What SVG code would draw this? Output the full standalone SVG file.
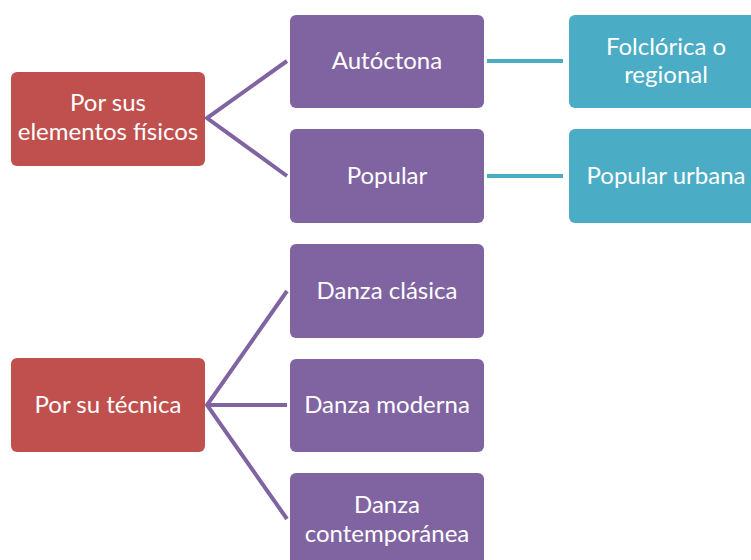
<svg xmlns="http://www.w3.org/2000/svg" width="751" height="560" viewBox="0 0 751 560">
<style>
.red{fill:#C0504D}
.pur{fill:#8064A2}
.teal{fill:#4BACC6}
.t{fill:#fff;font-family:Lato,"Open Sans","Liberation Sans",sans-serif;font-size:24px;text-anchor:middle}
.cp{stroke:#8064A2;stroke-width:4;fill:none}
.ct{stroke:#4BACC6;stroke-width:4;fill:none}
</style>
<rect width="751" height="560" fill="#fff"/>
<g id="connectors">
<path class="cp" d="M287,61 L207,118 L287,176"/>
<path class="cp" d="M287,291 L207,405 L287,519 M207,405 L287,405"/>
<path class="ct" d="M487,61 L563,61 M487,176 L563,176"/>
</g>
<g id="n1"><rect class="red" x="11" y="72" width="194" height="94" rx="6"/><text class="t" x="108" y="111">Por sus</text><text class="t" x="108" y="140">elementos físicos</text></g>
<g id="n2"><rect class="pur" x="290" y="15" width="194" height="93" rx="6"/><text class="t" x="387" y="69">Autóctona</text></g>
<g id="n3"><rect class="pur" x="290" y="129" width="194" height="94" rx="6"/><text class="t" x="387" y="184">Popular</text></g>
<g id="n4"><rect class="teal" x="569" y="15" width="194" height="93" rx="6"/><text class="t" x="666" y="55">Folclórica o</text><text class="t" x="666" y="83">regional</text></g>
<g id="n5"><rect class="teal" x="569" y="129" width="194" height="94" rx="6"/><text class="t" x="666" y="184">Popular urbana</text></g>
<g id="n6"><rect class="red" x="11" y="358" width="194" height="94" rx="6"/><text class="t" x="108" y="413">Por su técnica</text></g>
<g id="n7"><rect class="pur" x="290" y="244" width="194" height="94" rx="6"/><text class="t" x="387" y="299">Danza clásica</text></g>
<g id="n8"><rect class="pur" x="290" y="359" width="194" height="93" rx="6"/><text class="t" x="387" y="413">Danza moderna</text></g>
<g id="n9"><rect class="pur" x="290" y="473" width="194" height="94" rx="6"/><text class="t" x="387" y="513">Danza</text><text class="t" x="387" y="542">contemporánea</text></g>
</svg>
